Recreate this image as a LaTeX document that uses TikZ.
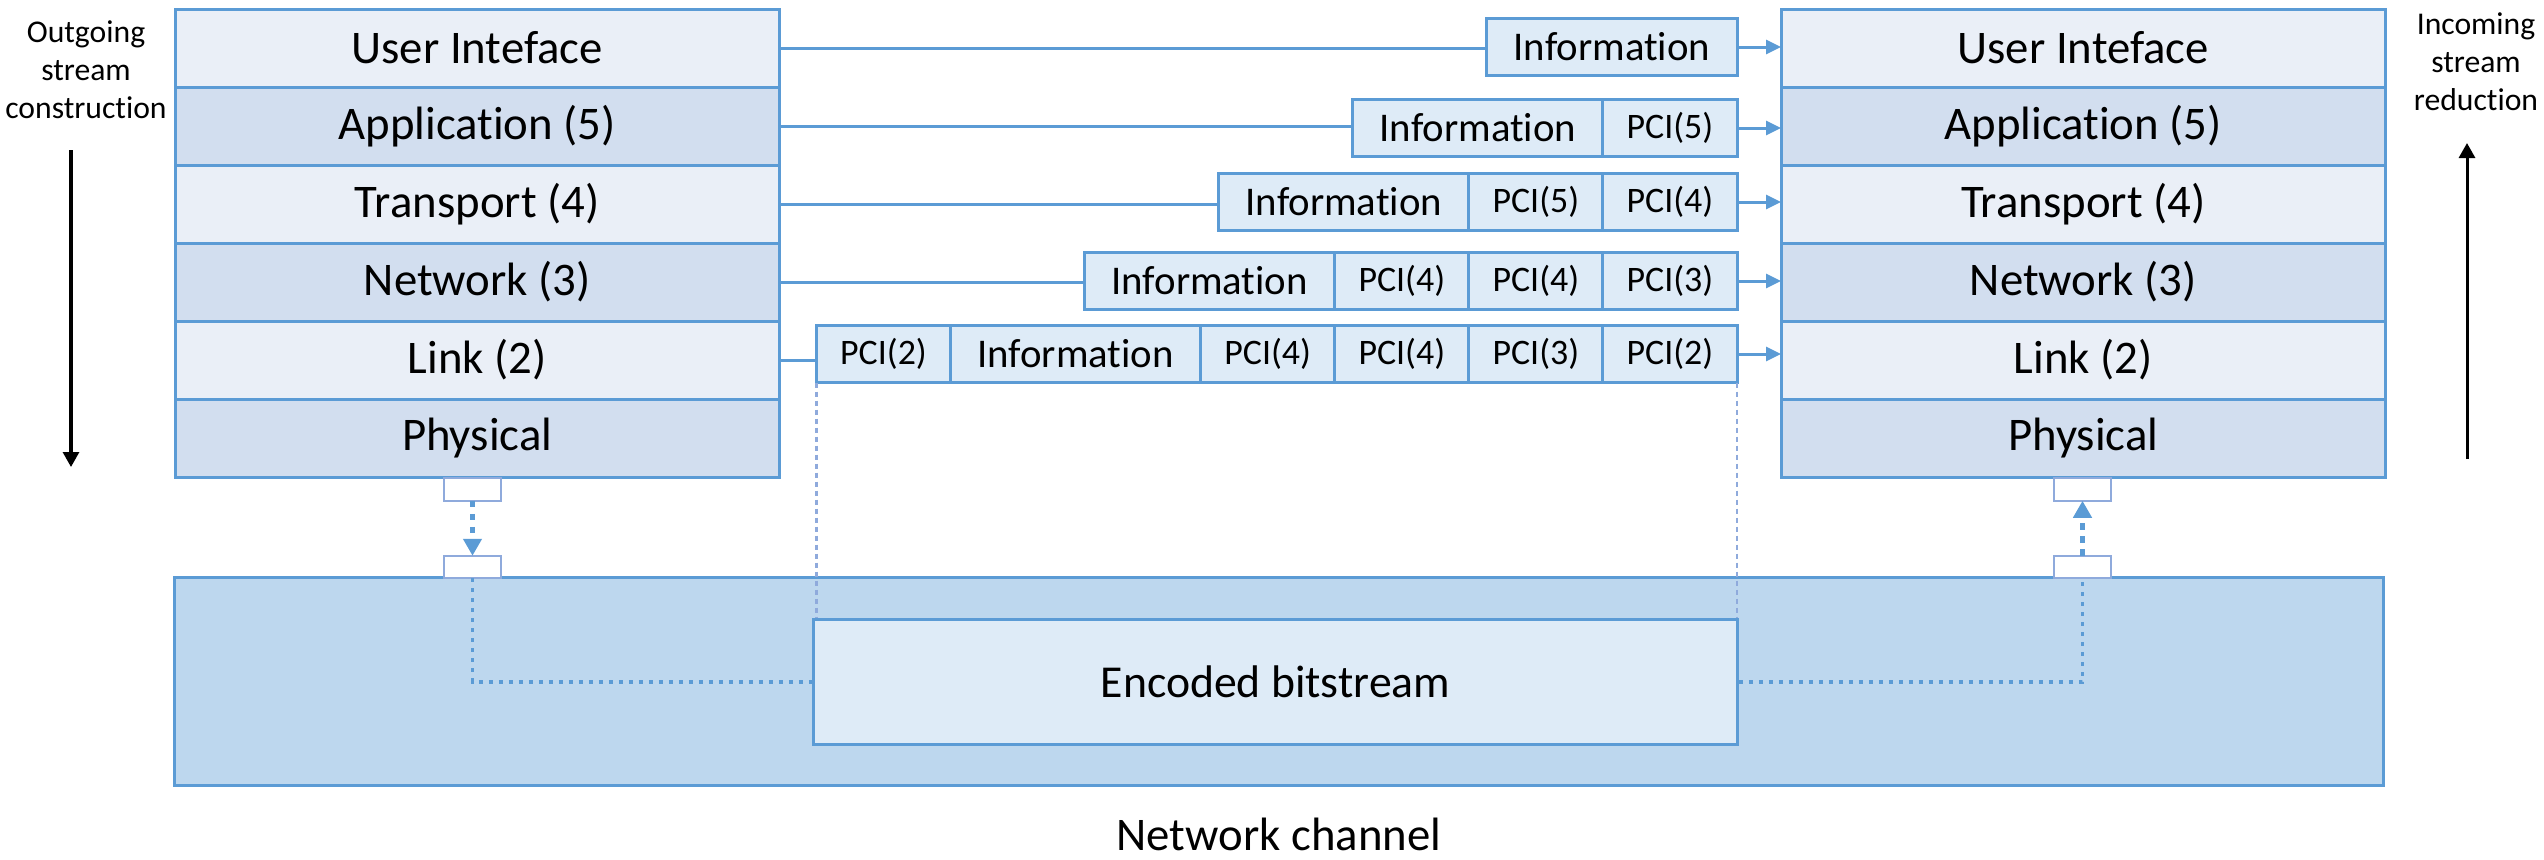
\documentclass[tikz,border=0pt]{standalone}
\usepackage{fontspec}
\setmainfont{Carlito}[Ligatures=NoCommon]
\usetikzlibrary{positioning,arrows.meta}

\definecolor{osiblue}{HTML}{5B9BD5}
\definecolor{osilight}{HTML}{EAEFF7}
\definecolor{osidark}{HTML}{D2DEEF}
\definecolor{pktfill}{HTML}{DEEBF7}
\definecolor{chanfill}{HTML}{BDD7EE}
\definecolor{portline}{HTML}{8FAADC}

\tikzset{
  layer/.style={draw=osiblue, line width=0.03cm, minimum width=6.04cm, minimum height=0.78cm,
    inner sep=0pt, outer sep=0pt, font=\fontsize{13.3}{16}\selectfont},
  info/.style={draw=osiblue, fill=pktfill, line width=0.03cm, minimum width=2.5cm, minimum height=0.57cm,
    inner sep=0pt, outer sep=0pt, font=\fontsize{11.6}{14}\selectfont},
  pci/.style={info, minimum width=1.34cm, font=\fontsize{10.2}{12}\selectfont},
  port/.style={draw=portline, fill=white, line width=0.02cm, minimum width=0.57cm, minimum height=0.225cm,
    inner sep=0pt, outer sep=0pt},
  feed/.style={osiblue, line width=0.03cm},
  pktarrow/.style={feed, -{Triangle[length=0.15cm,width=0.14cm]}},
  hop/.style={osiblue, line width=0.05cm, dash pattern=on 0.065cm off 0.065cm, -{Triangle[length=0.17cm,width=0.18cm]}},
  route/.style={osiblue, line width=0.035cm, dash pattern=on 0.04cm off 0.06cm},
  guide/.style={portline, line width=0.025cm, dash pattern=on 0.05cm off 0.04cm},
  flow/.style={black, line width=0.03cm, -{Triangle[length=0.15cm,width=0.16cm]}},
  sidenote/.style={align=center, font=\fontsize{9}{10.8}\selectfont}
}

\begin{document}
\begin{tikzpicture}[x=0.01cm,y=-0.01cm]
  \useasboundingbox (0,0) rectangle (2544,859);

  % --- network channel with the encoded bitstream ---
  \node[draw=osiblue, fill=chanfill, line width=0.03cm, minimum width=22.08cm, minimum height=2.07cm,
    inner sep=0pt] (chan) at (1279,681.5) {};
  \node[inner sep=0pt, font=\fontsize{13.3}{16}\selectfont] (chanlbl) at (1279,834) {Network channel};

  % --- the two protocol stacks ---
  \foreach \i/\txt/\shade in {1/User Inteface/osilight, 2/Application (5)/osidark,
      3/Transport (4)/osilight, 4/Network (3)/osidark, 5/Link (2)/osilight, 6/Physical/osidark} {
    \node[layer, fill=\shade, anchor=north west] (L\i) at (175,{9+(\i-1)*78}) {\txt};
    \node[layer, fill=\shade, anchor=north west] (R\i) at (1781,{9+(\i-1)*78}) {\txt};
  }

  % --- packets, built right to left ---
  \node[info, anchor=east] (p1a) at (1737,47) {Information};

  \node[pci, anchor=east] (p2b) at (1737,128) {PCI(5)};
  \node[info, left=0pt of p2b] (p2a) {Information};

  \node[pci, anchor=east] (p3c) at (1737,202) {PCI(4)};
  \node[pci, left=0pt of p3c] (p3b) {PCI(5)};
  \node[info, left=0pt of p3b] (p3a) {Information};

  \node[pci, anchor=east] (p4d) at (1737,281) {PCI(3)};
  \node[pci, left=0pt of p4d] (p4c) {PCI(4)};
  \node[pci, left=0pt of p4c] (p4b) {PCI(4)};
  \node[info, left=0pt of p4b] (p4a) {Information};

  \node[pci, anchor=east] (p5f) at (1737,354) {PCI(2)};
  \node[pci, left=0pt of p5f] (p5e) {PCI(3)};
  \node[pci, left=0pt of p5e] (p5d) {PCI(4)};
  \node[pci, left=0pt of p5d] (p5c) {PCI(4)};
  \node[info, left=0pt of p5c] (p5b) {Information};
  \node[pci, left=0pt of p5b] (p5a) {PCI(2)};

  % stack -> packet -> stack
  \foreach \r/\first/\last in {1/p1a/p1a, 2/p2a/p2b, 3/p3a/p3c, 4/p4a/p4d, 5/p5a/p5f} {
    \draw[feed] (L\r.east) -- (L\r.east -| \first.west);
    \draw[pktarrow] (\last.east) -- (\last.east -| R\r.west);
  }

  % --- physical ports and the bitstream ---
  \node[draw=osiblue, fill=pktfill, line width=0.03cm, minimum width=9.23cm, minimum height=1.24cm,
    inner sep=0pt, font=\fontsize{13}{16}\selectfont] (enc) at (1275.5,682) {Encoded bitstream};

  \node[port] (txup) at (472.5,489.5) {};
  \node[port] (txdn) at (472.5,567) {};
  \node[port] (rxup) at (2082.5,489.5) {};
  \node[port] (rxdn) at (2082.5,567) {};

  \draw[hop] (txup.south) -- (txdn.north);
  \draw[hop] (rxdn.north) -- (rxup.south);
  \draw[route] (txdn.south) |- (enc.west);
  \draw[route] (enc.east) -| (rxdn.south);
  \draw[guide] (p5a.south west) -- (p5a.south west |- enc.north);
  \draw[guide] (p5f.south east) -- (p5f.south east |- enc.north);

  % --- direction notes ---
  \node[sidenote] (outlbl) at (86,70) {Outgoing\\stream\\construction};
  \coordinate (outtop) at (71,150);
  \coordinate (outbot) at (71,467);
  \draw[flow] (outtop) -- (outbot);

  \node[sidenote] (inlbl) at (2476,62) {Incoming\\stream\\reduction};
  \coordinate (inbot) at (2467,459);
  \coordinate (intop) at (2467,143);
  \draw[flow] (inbot) -- (intop);

\end{tikzpicture}
\end{document}
